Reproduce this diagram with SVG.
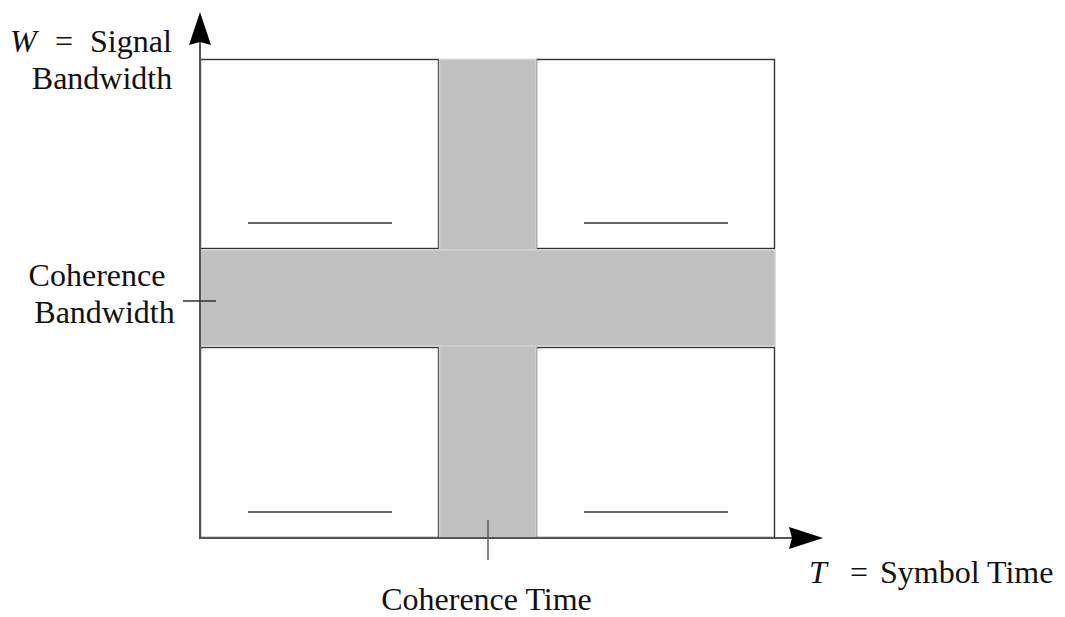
<svg xmlns="http://www.w3.org/2000/svg" width="1065" height="617" viewBox="0 0 1065 617">
  <style>
    .band { fill: #c0c0c0; stroke: #d2d2d2; stroke-width: 1.5; }
    .box { fill: #ffffff; stroke: #333333; stroke-width: 1.4; }
    .mark { stroke: #333333; stroke-width: 1.4; fill: none; }
    .axis { stroke: #555555; stroke-width: 2; fill: none; }
    .head { fill: #000000; }
    .lbl { font-family: "Liberation Serif", "DejaVu Serif", serif; font-size: 32px; fill: #111111; }
    .mid { text-anchor: middle; }
    .it { font-style: italic; }
  </style>

  <rect width="1065" height="617" fill="#ffffff"/>

  <!-- four resource blocks -->
  <g id="block-top-left">
    <rect class="box" x="200.5" y="59.5" width="238" height="189"/>
    <line class="mark" x1="248" y1="223" x2="392" y2="223"/>
  </g>
  <g id="block-top-right">
    <rect class="box" x="536.5" y="59.5" width="238" height="189"/>
    <line class="mark" x1="584" y1="223" x2="728" y2="223"/>
  </g>
  <g id="block-bottom-left">
    <rect class="box" x="200.5" y="347.5" width="238" height="190"/>
    <line class="mark" x1="248" y1="512" x2="392" y2="512"/>
  </g>
  <g id="block-bottom-right">
    <rect class="box" x="536.5" y="347.5" width="238" height="190"/>
    <line class="mark" x1="584" y1="512" x2="728" y2="512"/>
  </g>

  <!-- coherence bands -->
  <g id="coherence-time-band">
    <rect class="band" x="439.5" y="59.5" width="96.5" height="478"/>
  </g>
  <g id="coherence-bandwidth-band">
    <rect class="band" x="200.5" y="250" width="574.5" height="96"/>
  </g>

  <!-- axes and label ticks -->
  <g id="connectors">
    <line class="axis" x1="200" y1="539" x2="200" y2="40"/>
    <polygon class="head" points="189,45 200,12 211,45 200,42"/>
    <line class="axis" x1="199" y1="538" x2="795" y2="538"/>
    <polygon class="head" points="789,527 823,538 789,549 792,538"/>
    <line class="mark" x1="183" y1="301" x2="216" y2="301"/>
    <line class="mark" x1="488" y1="520" x2="488" y2="560" style="stroke:#555555"/>
  </g>

  <!-- labels -->
  <g id="label-signal-bandwidth">
    <text class="lbl" y="52"><tspan class="it" x="10">W</tspan><tspan x="55">=</tspan><tspan x="90">Signal</tspan></text>
    <text class="lbl mid" x="102" y="89">Bandwidth</text>
  </g>
  <g id="label-coherence-bandwidth">
    <text class="lbl mid" x="97" y="286">Coherence</text>
    <text class="lbl mid" x="104.5" y="323">Bandwidth</text>
  </g>
  <g id="label-coherence-time">
    <text class="lbl mid" x="486.5" y="610">Coherence Time</text>
  </g>
  <g id="label-symbol-time">
    <text class="lbl" y="583"><tspan class="it" x="809">T</tspan><tspan x="850">=</tspan><tspan x="880">Symbol Time</tspan></text>
  </g>
</svg>
